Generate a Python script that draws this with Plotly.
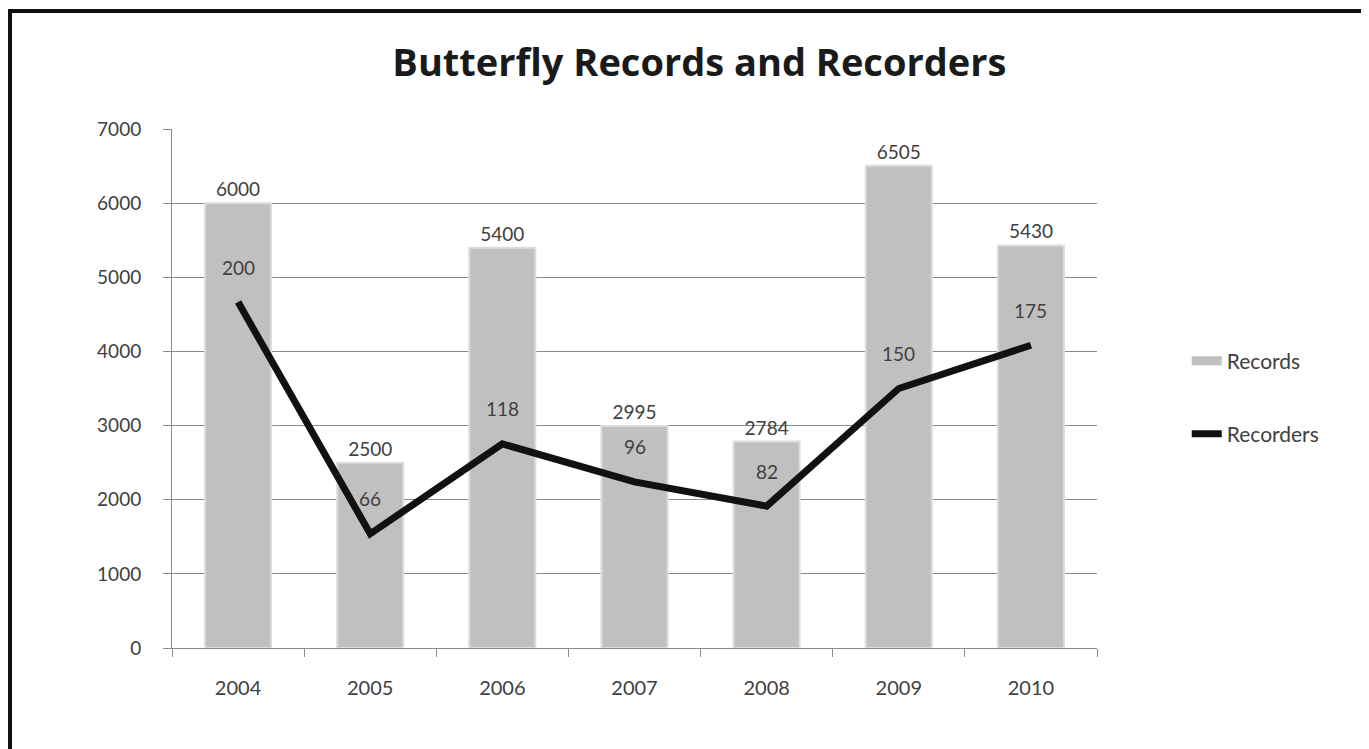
import plotly.graph_objects as go

years = ["2004", "2005", "2006", "2007", "2008", "2009", "2010"]
records = [6000, 2500, 5400, 2995, 2784, 6505, 5430]
recorders = [200, 66, 118, 96, 82, 150, 175]
y_ticks = [0, 1000, 2000, 3000, 4000, 5000, 6000, 7000]

FONT = "Lato"
TXT = "#404040"
BAR_COLOR = "#c0c0c0"

fig = go.Figure()
fig.add_trace(go.Bar(
    x=years, y=records, name="Records",
    marker=dict(color=BAR_COLOR, line=dict(color="#dcdcdc", width=2)),
    text=[str(v) for v in records], textposition="outside",
    textfont=dict(family=FONT, size=19, color=TXT),
    cliponaxis=False, showlegend=False,
))
# legend proxy so the "Records" key is a wide bar like the original
fig.add_trace(go.Scatter(
    x=[None], y=[None], name="Records", mode="lines",
    line=dict(color=BAR_COLOR, width=9), legend="legend", hoverinfo="skip",
))
fig.add_trace(go.Scatter(
    x=years, y=recorders, name="Recorders", yaxis="y2",
    mode="lines", line=dict(color="#111111", width=7),
    legend="legend2",
))
for i, v in enumerate(recorders):
    fig.add_annotation(x=i, y=v, xref="x", yref="y2", text=str(v), showarrow=False,
                       yshift=35, font=dict(family=FONT, size=19, color=TXT))

# outer frame
fig.add_shape(type="rect", xref="paper", yref="paper",
              x0=-0.1751, x1=1.6, y0=-0.5, y1=1.2274,
              line=dict(color="#111111", width=4), layer="above")

fig.update_layout(
    width=1369, height=749,
    margin=dict(l=164, r=280, t=121, b=109),
    paper_bgcolor="white", plot_bgcolor="white",
    title=dict(text="<b>Butterfly Records and Recorders</b>", x=0.505, xanchor="center",
               xref="container", y=0.9266, yanchor="middle",
               font=dict(family="Open Sans", size=38, color="#1a1a1a")),
    bargap=0.5,
    showlegend=True,
    legend=dict(x=1.097, y=0.553, xanchor="left", yanchor="middle",
                font=dict(family=FONT, size=21, color=TXT), bgcolor="rgba(0,0,0,0)"),
    legend2=dict(x=1.097, y=0.412, xanchor="left", yanchor="middle",
                 font=dict(family=FONT, size=21, color=TXT), bgcolor="rgba(0,0,0,0)"),
    xaxis=dict(type="category", range=[-0.5, len(years) - 0.5], showgrid=False,
               showline=True, linecolor="#8a8a8a",
               linewidth=1, ticks="outside", tickson="boundaries", ticklen=8,
               tickcolor="#8a8a8a", tickfont=dict(family=FONT, size=20, color=TXT),
               ticklabelstandoff=22, tickangle=0),
    yaxis=dict(range=[0, 7000], tickvals=y_ticks, showgrid=True, gridcolor="#8a8a8a",
               gridwidth=1, showline=True, linecolor="#8a8a8a", linewidth=1,
               ticks="outside", ticklen=8, tickcolor="#8a8a8a",
               tickfont=dict(family=FONT, size=19, color=TXT), ticklabelstandoff=18,
               zeroline=False),
    yaxis2=dict(range=[0, 300], overlaying="y", side="right", visible=False),
)

fig.write_html("out.html")
